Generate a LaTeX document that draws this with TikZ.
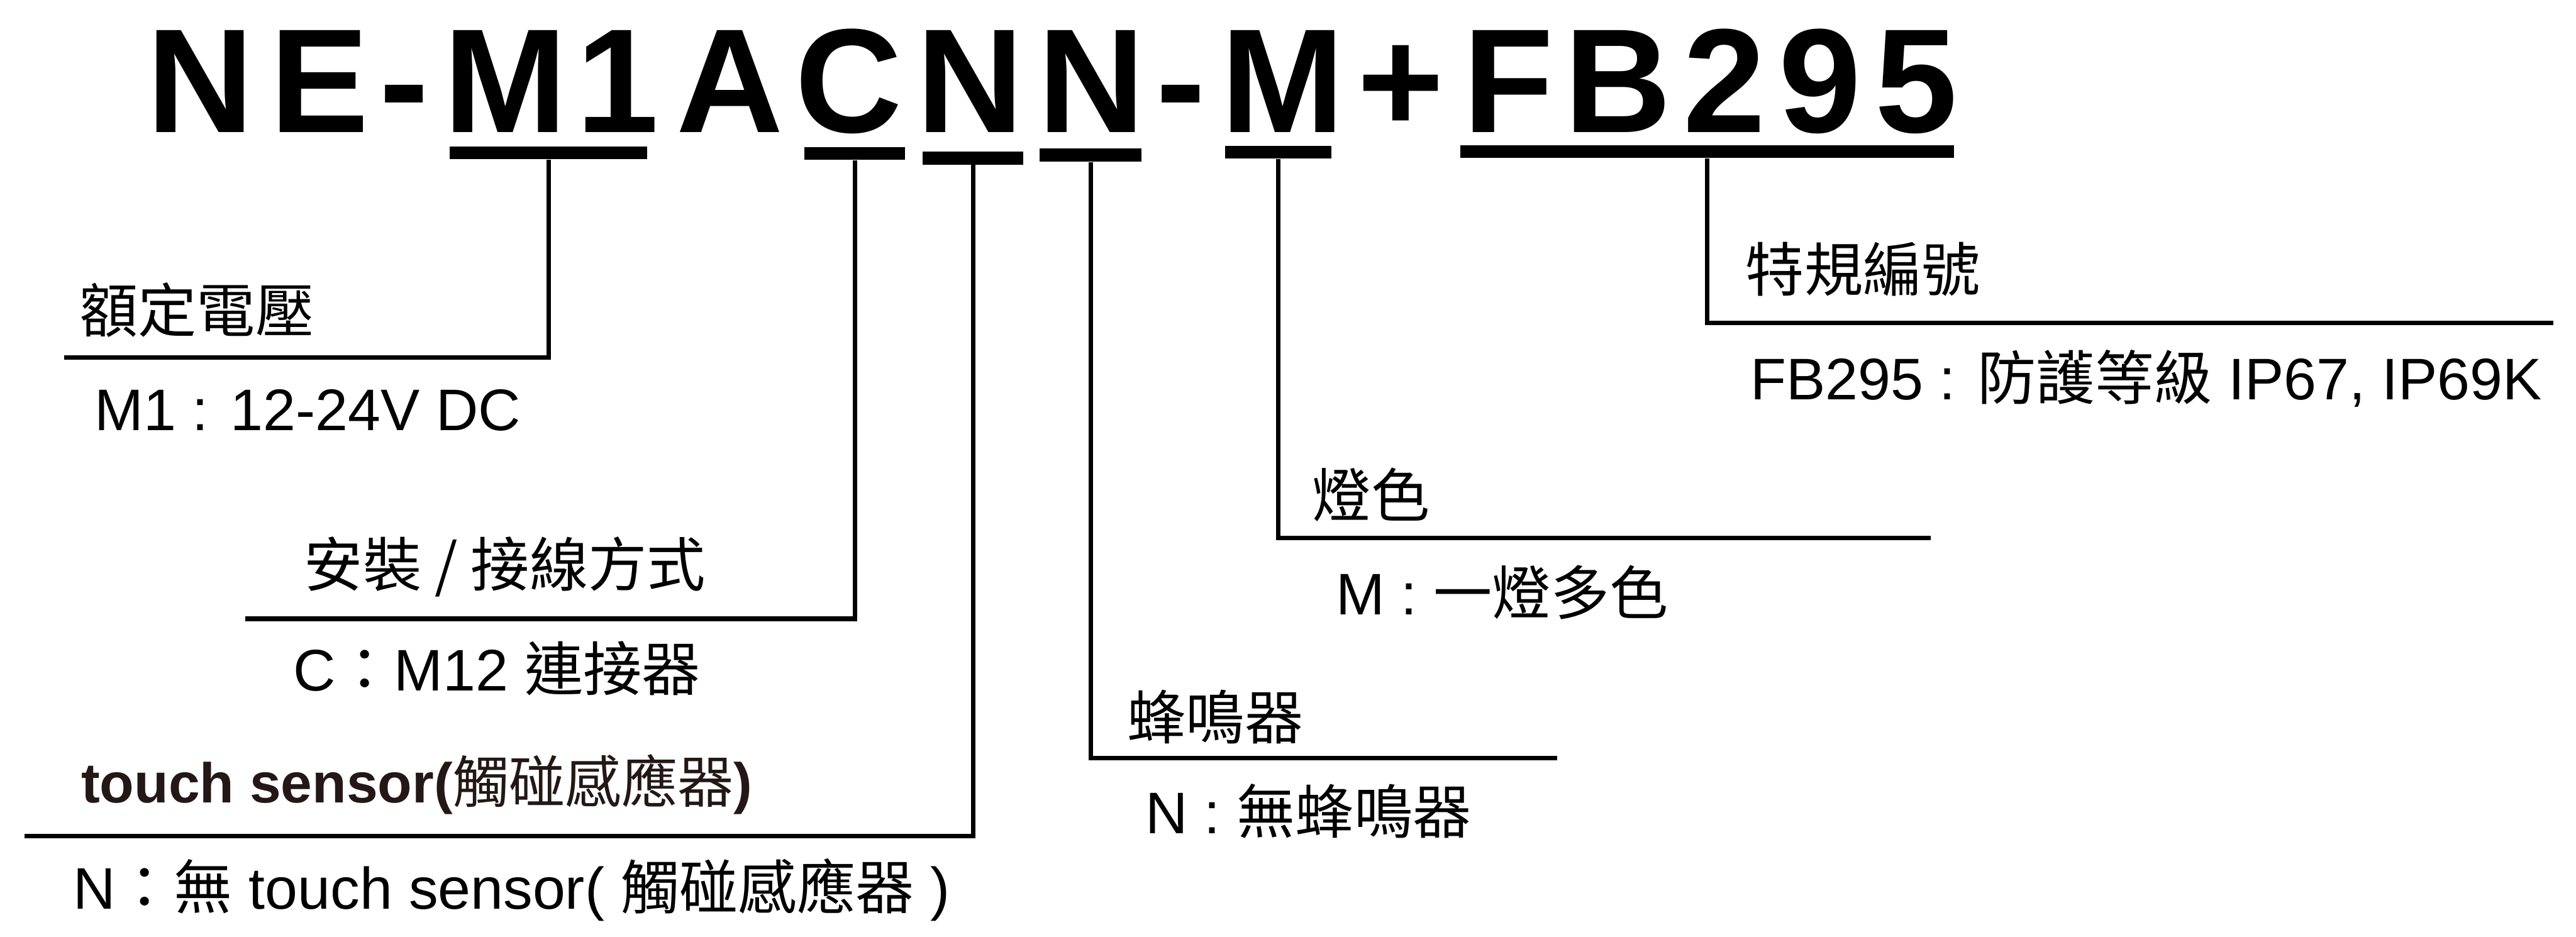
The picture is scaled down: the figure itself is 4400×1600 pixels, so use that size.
\documentclass[tikz,border=0pt]{standalone}
\usepackage{fontspec}
\setmainfont{Liberation Sans}
\newfontfamily\cjk{Noto Sans CJK TC}
\definecolor{inkbrown}{HTML}{231815}
\begin{document}
\begin{tikzpicture}[x=0.01cm,y=-0.01cm,
  titlechar/.style={anchor=base, inner sep=0pt, font=\fontsize{72}{80}\selectfont\bfseries},
  desc/.style={anchor=base west, inner sep=0pt, font=\fontsize{28.5}{34}\selectfont},
  bar/.style={fill=black, inner sep=0pt, minimum height=0.22cm},
  lead/.style={line width=2.2pt}]
\path[use as bounding box] (0,0) rectangle (4400,1600);
% title letters
\foreach \ch/\xx [count=\i] in {N/342, E/546, -/690, M/863, 1/1055, A/1247, C/1450, N/1657, N/1864, -/2017, M/2191, +/2393, F/2576, B/2764, 2/2946, 9/3109, 5/3273}
  \node[titlechar] (t\i) at (\xx,226) {\ch};
% underline bars
\node[bar, minimum width=3.37cm] (b1) at (937,261) {};
\node[bar, minimum width=1.72cm] (b2) at (1460,262) {};
\node[bar, minimum width=1.72cm] (b3) at (1662,270) {};
\node[bar, minimum width=1.74cm] (b4) at (1863,265) {};
\node[bar, minimum width=1.81cm] (b5) at (2183,260) {};
\node[bar, minimum width=8.42cm] (b6) at (2916,259) {};
% leader ends
\coordinate (c1) at (110,611);
\coordinate (c2) at (419,1057);
\coordinate (c3) at (42,1428);
\coordinate (c4) at (2660,1295);
\coordinate (c5) at (3298,919);
\coordinate (c6) at (4361,552);
\draw[lead] (b1.south) |- (c1);
\draw[lead] (b2.south) |- (c2);
\draw[lead] (b3.south) |- (c3);
\draw[lead] (b4.south) |- (c4);
\draw[lead] (b5.south) |- (c5);
\draw[lead] (b6.south) |- (c6);
% labels
\node[desc] (l1) at (135,568) {\cjk 額定電壓};
\node[desc] (v1) at (161,735) {M1 : 12-24V DC};
\node[desc] (l2) at (519,1002) {\cjk 安裝 / 接線方式};
\node[desc] (v2) at (500,1180) {C{\cjk ：}M12 {\cjk 連接器}};
\node[desc, text=inkbrown, font=\fontsize{27.3}{33}\selectfont] (l3) at (138,1371) {\bfseries touch sensor({\cjk\mdseries 觸碰感應器})};
\node[desc] (v3) at (124,1553) {N{\cjk ：無} touch sensor( {\cjk 觸碰感應器} )};
\node[desc] (l4) at (1925,1263) {\cjk 蜂鳴器};
\node[desc] (v4) at (1956,1424) {N : {\cjk 無蜂鳴器}};
\node[desc] (l5) at (2241,884) {\cjk 燈色};
\node[desc] (v5) at (2281,1050) {M : {\cjk 一燈多色}};
\node[desc] (l6) at (2981,498) {\cjk 特規編號};
\node[desc] (v6) at (2989,683) {FB295 : {\cjk 防護等級} IP67, IP69K};
\end{tikzpicture}
\end{document}
